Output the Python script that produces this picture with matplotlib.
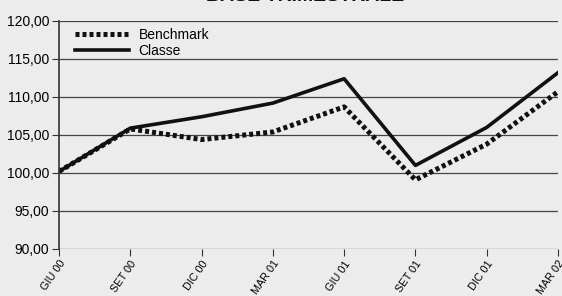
import matplotlib
matplotlib.use("Agg")
import matplotlib.pyplot as plt

plt.rcParams['font.family'] = ['Liberation Sans Narrow', 'Liberation Sans', 'DejaVu Sans']

# Dati trimestrali
periodi = ["GIU 00", "SET 00", "DIC 00", "MAR 01", "GIU 01", "SET 01", "DIC 01", "MAR 02"]
benchmark = [100.2, 105.8, 104.4, 105.4, 108.7, 99.1, 103.8, 110.7]
classe = [100.2, 105.9, 107.4, 109.2, 112.4, 101.0, 106.0, 113.2]
yticks = [90, 95, 100, 105, 110, 115, 120]

bg = "#ececec"
fig = plt.figure(figsize=(5.62, 2.96), dpi=100, facecolor=bg)
ax = fig.add_axes([59 / 562, 1 - 249 / 296, (558 - 59) / 562, (249 - 21) / 296])
ax.set_facecolor(bg)

x = list(range(len(periodi)))
ax.plot(x, benchmark, color="#111111", linewidth=3.6, linestyle=(0, (0.8, 0.6)),
        label="Benchmark", dash_capstyle="butt")
ax.plot(x, classe, color="#111111", linewidth=2.6, label="Classe")

ax.set_xlim(0, len(periodi) - 1)
ax.set_ylim(90, 120)
ax.set_yticks(yticks)
ax.set_yticklabels([f"{v:.2f}".replace(".", ",") for v in yticks], fontsize=10)
ax.set_xticks(x)
ax.set_xticklabels(periodi, rotation=55, ha="right", va="top", fontsize=7.8,
                   rotation_mode="anchor")
ax.tick_params(axis="x", length=5, color="#333333", pad=2)
ax.tick_params(axis="y", length=5, color="#333333", pad=2)

ax.grid(axis="y", color="#444444", linewidth=0.9)
ax.set_axisbelow(True)
for s in ["top", "right", "bottom"]:
    ax.spines[s].set_visible(False)
ax.spines["left"].set_color("#333333")
ax.spines["left"].set_linewidth(1.2)

leg = ax.legend(loc="upper left", bbox_to_anchor=(0.015, 1.005), frameon=False,
                fontsize=10, handlelength=3.9, labelspacing=0.1,
                borderaxespad=0.2, handletextpad=0.7)

fig.text(0.543, 1.04, "BASE TRIMESTRALE", ha="center", va="top",
         fontsize=14, fontweight="bold", color="#111111")

fig.savefig("out.png", dpi=100, facecolor=bg)
